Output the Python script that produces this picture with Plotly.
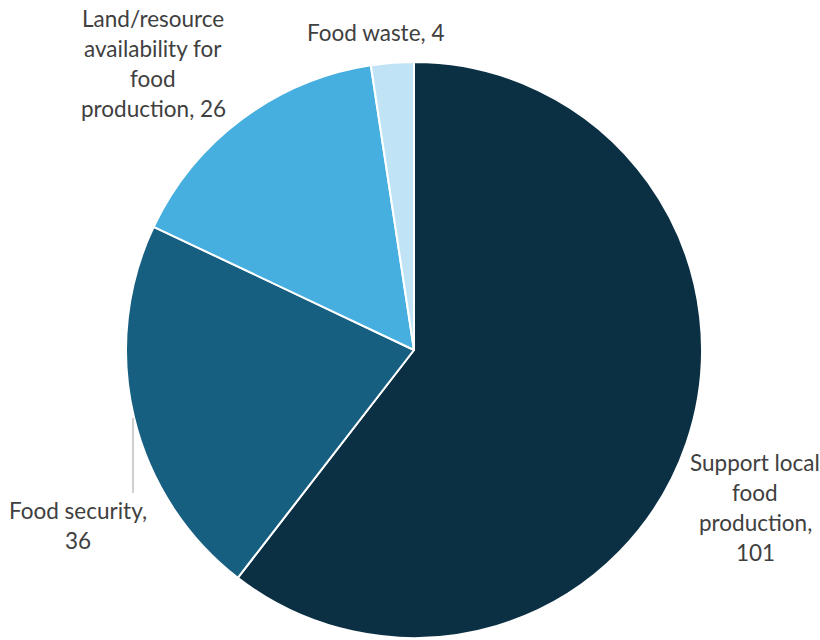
import plotly.graph_objects as go

categories = ["Support local food production", "Food security",
              "Land/resource availability for food production", "Food waste"]
values = [101, 36, 26, 4]
colors = ["#0C3043", "#175F80", "#46AFE0", "#C0E4F5"]

# label text layout (line breaks); value appended to last line or on its own line
label_lines = {
    "Support local food production": ["Support local", "food", "production,", "{v}"],
    "Food security": ["Food security,", "{v}"],
    "Land/resource availability for food production": ["Land/resource", "availability for", "food", "production, {v}"],
    "Food waste": ["Food waste, {v}"],
}
label_pos = {  # (x center, y of first line center) in pixels
    "Support local food production": (755, 462),
    "Food security": (78, 510),
    "Land/resource availability for food production": (153, 19),
    "Food waste": (375, 33),
}

W, H = 820, 640
cx, cy, r = 414, 350, 288

fig = go.Figure(go.Pie(
    labels=categories, values=values, sort=False, direction="clockwise",
    rotation=0, marker=dict(colors=colors, line=dict(color="white", width=2)),
    textinfo="none", hoverinfo="label+value", showlegend=False,
    domain=dict(x=[(cx - r) / W, (cx + r) / W], y=[1 - (cy + r) / H, 1 - (cy - r) / H]),
))

annotations = []
line_h = 30
for cat, val in zip(categories, values):
    lines = [t.format(v=val) for t in label_lines[cat]]
    x0, y0 = label_pos[cat]
    for i, t in enumerate(lines):
        annotations.append(dict(
            x=x0 / W, y=1 - (y0 + i * line_h) / H, xref="paper", yref="paper",
            text=t, showarrow=False, xanchor="center", yanchor="middle",
            font=dict(family="Lato, Roboto, sans-serif", size=22.5, color="#404040"),
        ))

fig.update_layout(
    width=W, height=H, margin=dict(l=0, r=0, t=0, b=0),
    paper_bgcolor="white", plot_bgcolor="white",
    annotations=annotations,
    shapes=[dict(type="line", xref="paper", yref="paper",
                 x0=133 / W, x1=133 / W, y0=1 - 418 / H, y1=1 - 493 / H,
                 line=dict(color="#BFBFBF", width=1.5))],
)

fig.write_html("out.html", config={"displayModeBar": False},
               post_script="document.body.style.margin='0';document.body.style.overflow='hidden';")
